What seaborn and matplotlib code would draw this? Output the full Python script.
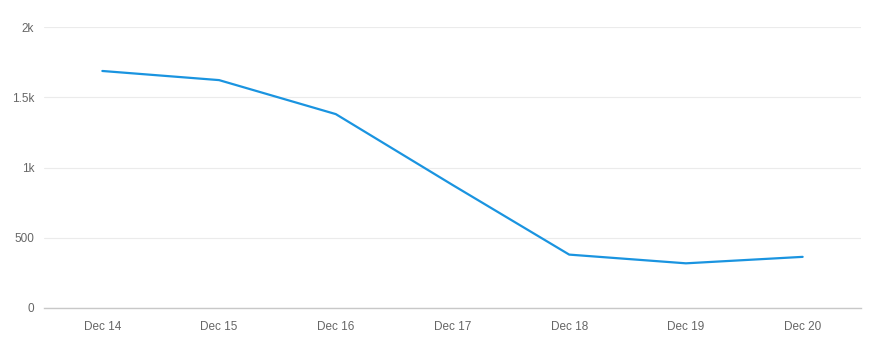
import numpy as np
import pandas as pd
import seaborn as sns
import matplotlib.pyplot as plt

days = ["Dec 14", "Dec 15", "Dec 16", "Dec 17", "Dec 18", "Dec 19", "Dec 20"]
counts = [1687, 1622, 1380, 876, 380, 318, 364]
ytick_vals = [0, 500, 1000, 1500, 2000]
ytick_labels = ["0", "500", "1k", "1.5k", "2k"]

df = pd.DataFrame({"day": days, "count": counts, "x": range(len(days))})

sns.set_style("white")
plt.rcParams['font.family'] = ['Liberation Sans', 'DejaVu Sans']

fig = plt.figure(figsize=(8.71, 3.56), dpi=100)
ax = fig.add_axes([44/871, 48/356, (861-44)/871, (308-27)/356])

sns.lineplot(data=df, x="x", y="count", ax=ax, color="#1a94e0", linewidth=1.6)

ax.set_xlim(-0.5, len(days) - 0.5)
ax.set_ylim(0, 2000)
ax.set_xticks(df["x"])
ax.set_xticklabels(days)
ax.set_yticks(ytick_vals)
ax.set_yticklabels(ytick_labels)
ax.set_xlabel("")
ax.set_ylabel("")

ax.grid(axis="y", color="#ebebeb", linewidth=0.8)
ax.set_axisbelow(True)
for s in ["top", "right", "left"]:
    ax.spines[s].set_visible(False)
ax.spines["bottom"].set_color("#c8c8c8")
ax.spines["bottom"].set_linewidth(1)

ax.tick_params(axis="x", colors="#666666", labelsize=8.5, length=5, width=0.8, color="#c8c8c8", pad=4)
ax.tick_params(axis="y", colors="#666666", labelsize=8.5, length=0, pad=7)
for lbl in ax.get_xticklabels() + ax.get_yticklabels():
    lbl.set_color("#666666")

fig.savefig("out.png", dpi=100)
